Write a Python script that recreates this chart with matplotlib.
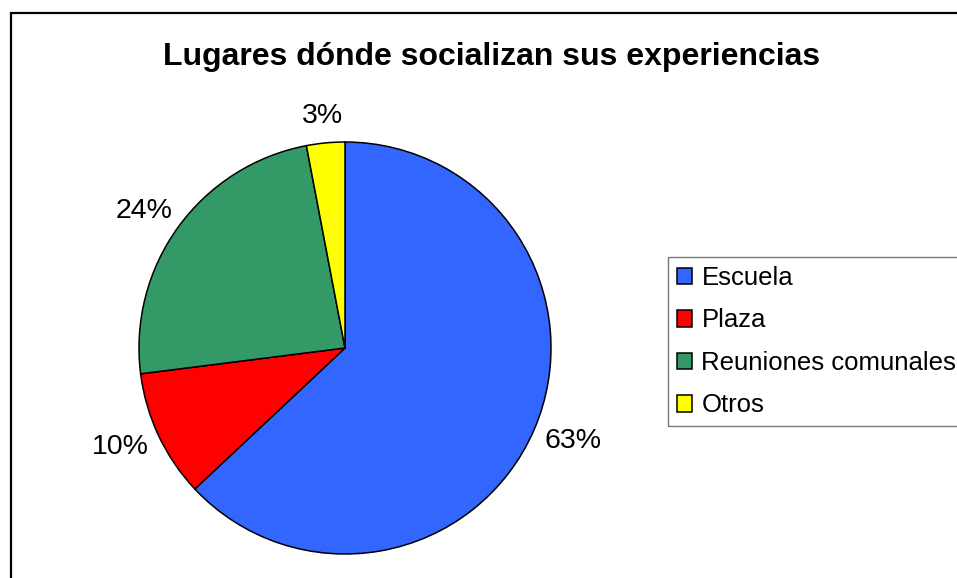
import numpy as np
import matplotlib.pyplot as plt
from matplotlib.patches import Rectangle

plt.rcParams['font.family'] = ['Liberation Sans', 'DejaVu Sans']

# datos
lugares = ['Escuela', 'Plaza', 'Reuniones comunales', 'Otros']
porcentajes = [63, 10, 24, 3]
colores = ['#3366FF', '#FF0000', '#339966', '#FFFF00']
titulo = 'Lugares dónde socializan sus experiencias'

W, H = 957, 578
fig = plt.figure(figsize=(W / 100, H / 100), dpi=100)

# marco exterior del grafico (se corta a la derecha y abajo)
fig.patches.append(Rectangle((11 / W, -0.1), 2, 1.1 - 13 / H, transform=fig.transFigure,
                             fill=False, edgecolor='black', linewidth=1.6))

# ejes cuadrados centrados en el pastel
cx, cy, r = 345, 348, 206
lim = 1.05
half = r * lim
ax = fig.add_axes([(cx - half) / W, (H - cy - half) / H, 2 * half / W, 2 * half / H])

wedges, textos, pcts = ax.pie(
    porcentajes, colors=colores, startangle=90, counterclock=False,
    autopct='%d%%', pctdistance=1.1,
    wedgeprops=dict(edgecolor='black', linewidth=1.1),
    textprops=dict(fontsize=20.5, color='black'))
ax.set_xlim(-lim, lim)
ax.set_ylim(-lim, lim)
ax.set_aspect('auto')
ax.axis('off')

# etiquetas estilo Excel: el borde del texto queda a una distancia fija del circulo
fig.canvas.draw()
for w, t in zip(wedges, pcts):
    ang = np.deg2rad((w.theta1 + w.theta2) / 2)
    dx, dy = np.cos(ang), np.sin(ang)
    bb = t.get_window_extent().transformed(ax.transData.inverted())
    t.set_position((1.07 * dx + bb.width / 2 * dx, 1.07 * dy + bb.height / 2 * dy))
    t.set_ha('center')
    t.set_va('center')

fig.text(492 / W, 1 - 57 / H, titulo, ha='center', va='center',
         fontsize=23, fontweight='bold')

leg = fig.legend(wedges, lugares, loc='upper left',
                 bbox_to_anchor=(668 / W, 1 - 257 / H),
                 fontsize=18.5, frameon=True, fancybox=False,
                 handlelength=0.6, handleheight=0.6, handletextpad=0.35,
                 borderpad=0.35, labelspacing=0.72, borderaxespad=0)
leg.get_frame().set_edgecolor('#555555')
leg.get_frame().set_linewidth(1.0)

fig.savefig('out.png', dpi=100)
